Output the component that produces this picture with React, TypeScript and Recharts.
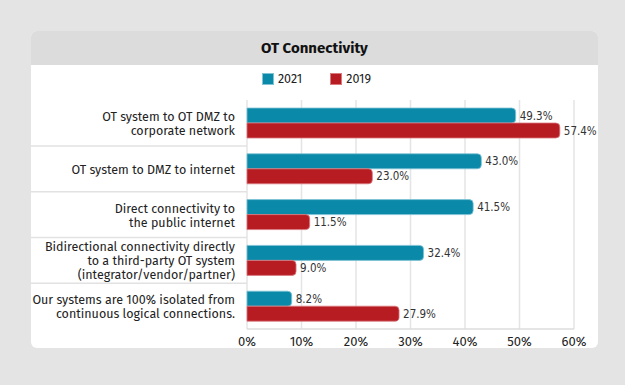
import { BarChart, Bar, XAxis, YAxis, CartesianGrid, LabelList } from 'recharts';

const categories = [
  'OT system to OT DMZ to\ncorporate network',
  'OT system to DMZ to internet',
  'Direct connectivity to\nthe public internet',
  'Bidirectional connectivity directly\nto a third-party OT system\n(integrator/vendor/partner)',
  'Our systems are 100% isolated from\ncontinuous logical connections.',
];
const values2021 = [49.3, 43.0, 41.5, 32.4, 8.2];
const values2019 = [57.4, 23.0, 11.5, 9.0, 27.9];
const xTicks = [0, 10, 20, 30, 40, 50, 60];

const data = categories.map((name, i) => ({ name, y2021: values2021[i], y2019: values2019[i] }));

const TEAL = '#0a89a8';
const RED = '#b71c22';
const labelFont = '"Fira Sans", Lato, "Noto Sans", sans-serif';
const valueFont = '"DejaVu Sans", sans-serif';

const series = [
  { key: 'y2021', name: '2021', color: TEAL, edge: '#7fc3d4' },
  { key: 'y2019', name: '2019', color: RED, edge: '#d97a7e' },
];

// multi-line category label plus a separator under each band
const CategoryTick = (props: any) => {
  const { x, y, payload, index } = props;
  const lines = String(payload.value).split('\n');
  const lh = 14;
  const startY = y - ((lines.length - 1) * lh) / 2;
  return (
    <g>
      <text x={x} y={startY} textAnchor="end" fontSize={12.5} fill="#222" fontFamily={labelFont} dominantBaseline="central">
        {lines.map((l, i) => (
          <tspan key={i} x={x} y={startY + i * lh} dominantBaseline="central">{l}</tspan>
        ))}
      </text>
      {index < categories.length - 1 && (
        <line x1={0} x2={216} y1={y + 23} y2={y + 23} stroke="#e2e2e2" strokeWidth={1.5} />
      )}
    </g>
  );
};

export default function App() {
  return (
    <div style={{ position: 'absolute', left: 0, top: 0, width: 625, height: 385, background: '#e4e4e4' }}>
      <div style={{ position: 'absolute', left: 31, top: 31, width: 567, height: 317, background: '#fff', borderRadius: 6, overflow: 'hidden' }}>
        <div style={{ height: 34, background: '#dcdcdd', display: 'flex', alignItems: 'center', justifyContent: 'center', fontFamily: labelFont, fontWeight: 700, fontSize: 15, color: '#111' }}>
          OT Connectivity
        </div>
        <div style={{ position: 'absolute', top: 40, left: 0, width: 567, display: 'flex', justifyContent: 'center', gap: 28, fontFamily: labelFont, fontSize: 12.5, color: '#222', paddingLeft: 2 }}>
          {series.map((s) => (
            <div key={s.key} style={{ display: 'flex', alignItems: 'center', gap: 4 }}>
              <span style={{ display: 'inline-block', width: 12, height: 12, background: s.color, boxShadow: `inset 0 0 0 1px ${s.edge}` }} />
              <span>{s.name}</span>
            </div>
          ))}
        </div>
        <BarChart
          width={567}
          height={283}
          data={data}
          layout="vertical"
          margin={{ top: 35, right: 24, bottom: 0, left: 0 }}
          barGap={0}
          barCategoryGap={8}
        >
          <CartesianGrid horizontal={false} stroke="#e4e4e4" strokeWidth={1.5} />
          <XAxis
            type="number"
            domain={[0, 60]}
            ticks={xTicks}
            tickFormatter={(v) => `${v}%`}
            axisLine={{ stroke: '#dcdcdc', strokeWidth: 1.5 }}
            tickLine={false}
            tick={{ fontSize: 13, fill: '#222', fontFamily: labelFont }}
            tickMargin={2}
            height={19}
            interval={0}
          />
          <YAxis
            type="category"
            dataKey="name"
            width={216}
            axisLine={false}
            tickLine={false}
            tickMargin={6}
            tick={<CategoryTick />}
            interval={0}
          />
          {series.map((s) => (
            <Bar key={s.key} dataKey={s.key} name={s.name} fill={s.color} stroke={s.edge} strokeWidth={0.8} barSize={15} radius={[0, 4, 4, 0]} isAnimationActive={false}>
              <LabelList dataKey={s.key} position="right" offset={4} formatter={(v: any) => `${Number(v).toFixed(1)}%`} style={{ fontSize: 11.5, fill: '#333', fontFamily: valueFont, fontStretch: 'condensed' }} />
            </Bar>
          ))}
        </BarChart>
      </div>
    </div>
  );
}
